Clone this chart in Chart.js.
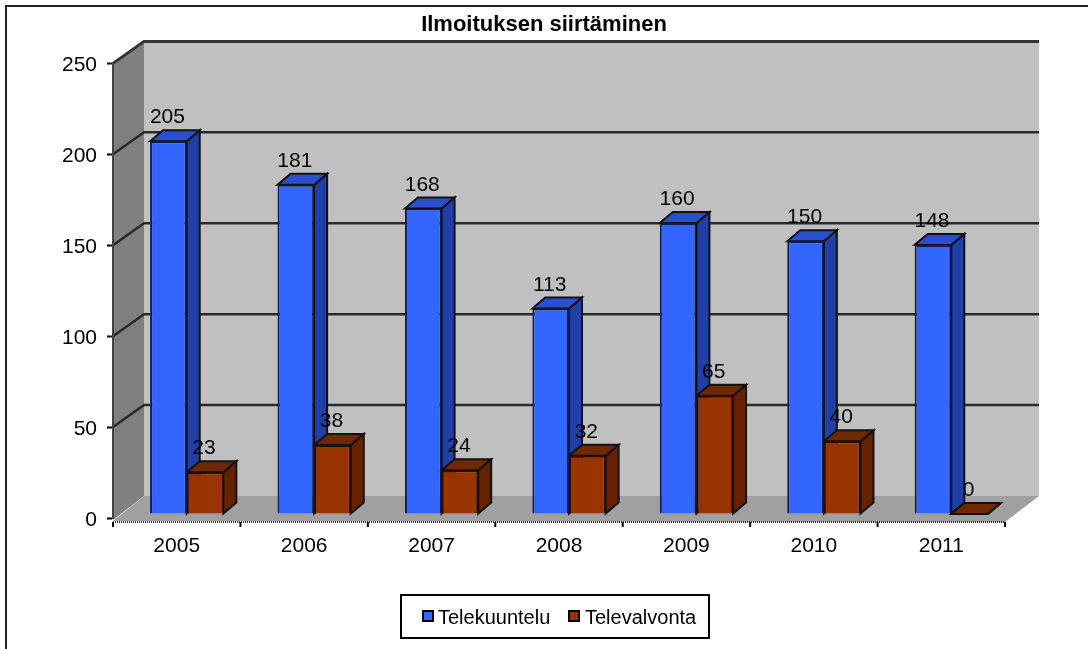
<!DOCTYPE html>
<html>
<head>
<meta charset="utf-8">
<title>Ilmoituksen siirtäminen</title>
<script src="https://cdn.jsdelivr.net/npm/chart.js@4/dist/chart.umd.min.js"></script>
<style>
  html, body { margin: 0; padding: 0; background: #fff; }
  canvas { display: block; }
</style>
</head>
<body>
<canvas id="chart" width="1088" height="649"></canvas>
<script>
const years = ['2005', '2006', '2007', '2008', '2009', '2010', '2011'];
const telekuuntelu = [205, 181, 168, 113, 160, 150, 148];
const televalvonta = [23, 38, 24, 32, 65, 40, 0];
const yTicks = [0, 50, 100, 150, 200, 250];

// looks of the fake 3d
const wallDx = 31, wallDy = -22;
const barShiftX = 10, barShiftY = -4;
const barDx = 13, barDy = -11;

function poly(ctx, pts, fill, stroke, lw) {
    ctx.beginPath();
    pts.forEach((p, i) => i ? ctx.lineTo(p[0], p[1]) : ctx.moveTo(p[0], p[1]));
    ctx.closePath();
    ctx.fillStyle = fill;
    ctx.fill();
    if (stroke) {
        ctx.strokeStyle = stroke;
        ctx.lineWidth = lw || 1;
        ctx.stroke();
    }
}

const frame3d = {
    id: 'frame3d',
    afterLayout(chart) {
        // title is centred on the whole page, not on what the padding leaves
        chart.titleBlock.left = 83;
    },
    beforeDraw(chart) {
        const ctx = chart.ctx;
        const a = chart.chartArea;
        const y = chart.scales.y;
        const y0 = y.getPixelForValue(0);
        const yTop = y.getPixelForValue(250);
        const backR = a.right + 34;

        ctx.save();
        // outer border, only top and left are in the picture
        ctx.strokeStyle = '#222';
        ctx.lineWidth = 2;
        ctx.beginPath();
        ctx.moveTo(6, 649);
        ctx.lineTo(6, 6);
        ctx.lineTo(1088, 6);
        ctx.stroke();

        // walls and floor
        poly(ctx, [[a.left + wallDx, yTop + wallDy], [backR, yTop + wallDy], [backR, y0 + wallDy], [a.left + wallDx, y0 + wallDy]], '#c0c0c0');
        poly(ctx, [[a.left, yTop], [a.left + wallDx, yTop + wallDy], [a.left + wallDx, y0 + wallDy], [a.left, y0 + 2]], '#808080');
        poly(ctx, [[a.left, y0 + 3], [a.left + wallDx, y0 + wallDy], [backR, y0 + wallDy], [a.right, y0 + 4]], '#a0a0a0');

        // grid lines, back wall + the diagonal on the left wall
        yTicks.forEach(v => {
            const py = y.getPixelForValue(v);
            ctx.strokeStyle = v === 250 ? '#333' : '#2a2a2a';
            ctx.lineWidth = v === 250 ? 3 : 2.5;
            if (v > 0) {
                ctx.beginPath();
                ctx.moveTo(a.left, py);
                ctx.lineTo(a.left + wallDx, py + wallDy);
                ctx.lineTo(backR, py + wallDy);
                ctx.stroke();
            }
        });

        // x axis sits a bit under the value 0
        const axisY = y0 + 4;
        ctx.strokeStyle = '#333';
        ctx.lineWidth = 2;
        ctx.setLineDash([1, 1]);
        ctx.beginPath();
        ctx.moveTo(a.left, axisY);
        ctx.lineTo(a.right, axisY);
        ctx.stroke();
        ctx.setLineDash([]);
        ctx.strokeStyle = '#000';
        for (let i = 0; i <= years.length; i++) {
            const px = a.left + i * (a.right - a.left) / years.length;
            ctx.beginPath();
            ctx.moveTo(px, axisY);
            ctx.lineTo(px, axisY + 5);
            ctx.stroke();
        }
        ctx.restore();
    },
    beforeDatasetsDraw(chart) {
        // top and side faces first, blue under brown. The library draws the
        // left bar of a group last, which is fine for the front faces.
        const ctx = chart.ctx;
        ctx.save();
        ctx.translate(barShiftX, barShiftY);
        chart.data.datasets.forEach((ds, i) => {
            chart.getDatasetMeta(i).data.forEach(bar => {
                const l = bar.x - bar.width / 2;
                const r = bar.x + bar.width / 2;
                poly(ctx, [[r, bar.y], [r + barDx, bar.y + barDy], [r + barDx, bar.base + barDy], [r, bar.base]], ds.sideColor, '#111', 2);
                poly(ctx, [[l, bar.y], [l + barDx, bar.y + barDy], [r + barDx, bar.y + barDy], [r, bar.y]], ds.topColor, '#111', 2);
            });
        });
        ctx.restore();
    },
    beforeDatasetDraw(chart) {
        chart.ctx.save();
        chart.ctx.translate(barShiftX, barShiftY);
    },
    afterDatasetDraw(chart) {
        chart.ctx.restore();
    },
    afterDatasetsDraw(chart) {
        const ctx = chart.ctx;
        ctx.save();
        ctx.font = '21px "Liberation Sans", Arial, sans-serif';
        ctx.fillStyle = '#000';
        ctx.textAlign = 'center';
        ctx.textBaseline = 'alphabetic';
        chart.data.datasets.forEach((ds, i) => {
            chart.getDatasetMeta(i).data.forEach((bar, j) => {
                ctx.fillText(String(ds.data[j]), bar.x + barShiftX - 1, bar.y + barShiftY - 18);
            });
        });

        // legend
        ctx.strokeStyle = '#000';
        ctx.lineWidth = 2;
        ctx.strokeRect(401, 595, 308, 43);
        ctx.font = '20px "Liberation Sans", Arial, sans-serif';
        ctx.textAlign = 'left';
        ctx.textBaseline = 'middle';
        [[423, 438], [569, 585]].forEach((pos, i) => {
            const ds = chart.data.datasets[i];
            ctx.fillStyle = ds.backgroundColor;
            ctx.fillRect(pos[0], 611, 10, 10);
            ctx.strokeRect(pos[0], 611, 10, 10);
            ctx.fillStyle = '#000';
            ctx.fillText(ds.label, pos[1], 618);
        });
        ctx.restore();
    }
};

new Chart(document.getElementById('chart').getContext('2d'), {
    type: 'bar',
    data: {
        labels: years,
        datasets: [
            { label: 'Telekuuntelu', data: telekuuntelu, backgroundColor: '#3366ff', topColor: '#2a50d0', sideColor: '#2040a8', borderColor: '#111a55', borderWidth: 2 },
            { label: 'Televalvonta', data: televalvonta, backgroundColor: '#993300', topColor: '#702800', sideColor: '#662200', borderColor: '#2a0e00', borderWidth: 2 }
        ]
    },
    plugins: [frame3d],
    options: {
        responsive: false,
        animation: false,
        clip: false,
        datasets: { bar: { categoryPercentage: 0.575, barPercentage: 1 } },
        layout: { padding: { left: 0, right: 83, top: 0, bottom: 0 } },
        plugins: {
            legend: { display: false },
            tooltip: { enabled: false },
            title: {
                display: true,
                text: 'Ilmoituksen siirtäminen',
                color: '#000',
                font: { family: '"Liberation Sans", Arial, sans-serif', size: 22, weight: 'bold' },
                padding: { top: 12, bottom: 25 }
            }
        },
        scales: {
            x: {
                grid: { display: false },
                border: { display: false },
                ticks: { color: '#000', padding: 8, font: { family: '"Liberation Sans", Arial, sans-serif', size: 21 } },
                afterFit: s => { s.height = 649 - 518; }
            },
            y: {
                min: 0,
                max: 250,
                afterBuildTicks: s => { s.ticks = yTicks.map(v => ({ value: v })); },
                grid: { drawOnChartArea: false, tickLength: 6, tickColor: '#000', tickWidth: 2 },
                border: { color: '#444', width: 2, dash: [1, 1] },
                ticks: { color: '#000', padding: 10, labelOffset: 2, font: { family: '"Liberation Sans", Arial, sans-serif', size: 21 } },
                afterFit: s => { s.width = 113; }
            }
        }
    }
});
</script>
</body>
</html>
